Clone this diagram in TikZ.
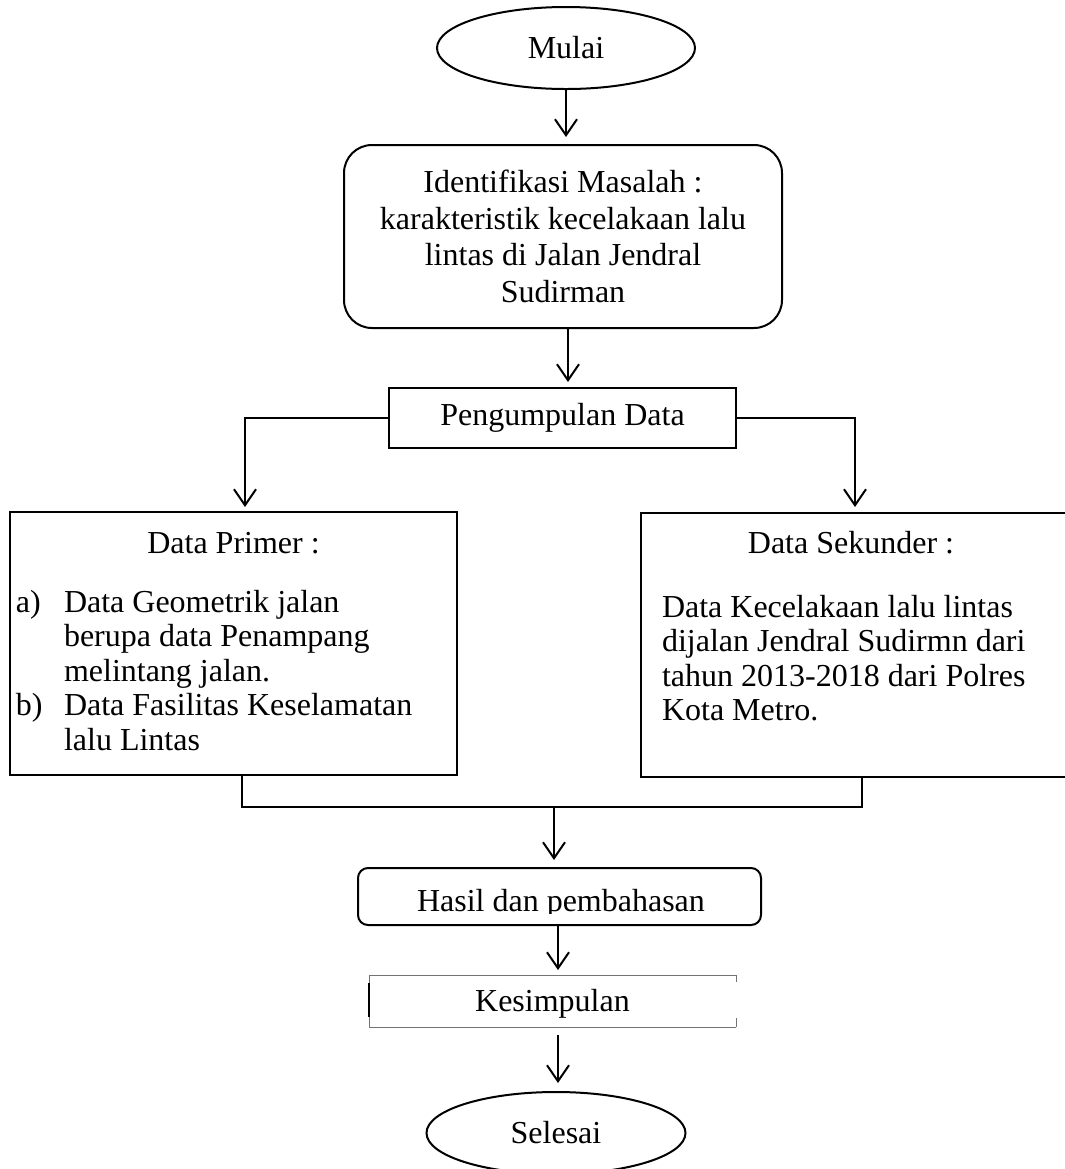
\documentclass[tikz,border=0pt]{standalone}
\usepackage{fontspec}
\setmainfont{Liberation Serif}
\usetikzlibrary{arrows.meta,shapes.geometric}
\begin{document}
\begin{tikzpicture}[x=0.5pt,y=-0.5pt,
  every node/.style={font=\fontsize{16pt}{18.35pt}\selectfont, inner sep=0pt, outer sep=0pt},
  ln/.style={line width=1pt, black},
  arr/.style={ln, -{Straight Barb[length=8pt,width=11pt]}},
  oval/.style={draw, ln, ellipse, minimum width=129pt, minimum height=41pt},
  plainbox/.style={draw, ln, rectangle},
  txt/.style={anchor=base west},
  ctxt/.style={anchor=base},
]
\path[use as bounding box, fill=white] (0,0) rectangle (1065,1169);

% start
\node[oval] (mulai) at (566,48) {Mulai};

% identification
\node[draw, ln, rounded corners=14pt, minimum width=219pt, minimum height=91.5pt, align=center] (ident) at (563,236.5)
  {Identifikasi Masalah :\\ karakteristik kecelakaan lalu\\ lintas di Jalan Jendral\\ Sudirman};

% data collection
\node[plainbox, minimum width=173.5pt, minimum height=30pt] (peng) at (562.5,418) {Pengumpulan Data};

% primary data
\node[plainbox, minimum width=223.5pt, minimum height=131.5pt] (primer) at (233.5,643.5) {};
\node[ctxt] (primerh) at (233.5,553) {Data Primer :};
\node[txt] (pa)  at (16,612) {a)};
\node[txt] (pa1) at (64,612) {Data Geometrik jalan};
\node[txt] (pa2) at (64,646.5) {berupa data Penampang};
\node[txt] (pa3) at (64,681) {melintang jalan.};
\node[txt] (pb)  at (16,715.5) {b)};
\node[txt] (pb1) at (64,715.5) {Data Fasilitas Keselamatan};
\node[txt] (pb2) at (64,750) {lalu Lintas};

% secondary data
\node[plainbox, minimum width=217pt, minimum height=132pt] (sekunder) at (858,645) {};
\node[ctxt] (sekh) at (851,553) {Data Sekunder :};
\node[txt] (s1) at (662,617) {Data Kecelakaan lalu lintas};
\node[txt] (s2) at (662,651.5) {dijalan Jendral Sudirmn dari};
\node[txt] (s3) at (662,686) {tahun 2013-2018 dari Polres};
\node[txt] (s4) at (662,720.5) {Kota Metro.};

% results
\node[draw, ln, rounded corners=5pt, minimum width=201.5pt, minimum height=28.5pt] (hasil) at (559.5,896.5) {};
\begin{scope}
  \clip (358,868) rectangle (761,913);
  \node[txt] (hasilt) at (417,911) {Hasil dan pembahasan};
\end{scope}

% conclusion
\node[minimum width=183.5pt, minimum height=26pt] (kes) at (552.5,1001) {};
\node[ctxt] (kest) at (552.5,1011) {Kesimpulan};
\draw[line width=0.5pt, black!55]
  (kes.north west) -- (kes.north east)
  (kes.south west) -- (kes.south east)
  (kes.north west) -- (kes.south west)
  (kes.north east) -- ++(0,7)
  (kes.south east) -- ++(0,-9);
\draw[ln] ([yshift=-4pt]kes.north west) -- ([yshift=5pt]kes.south west);

% end
\node[oval, minimum width=129.5pt] (selesai) at (556,1133) {Selesai};

% connectors
\draw[arr, shorten >=4pt] (mulai.south) -- (mulai.south |- ident.north);
\draw[arr, shorten >=3pt] ([xshift=2.5pt]ident.south) -- ([xshift=2.5pt]ident.south |- peng.north);

\coordinate (pl) at (245,512);
\coordinate (pr) at (855,513);
\draw[arr, shorten >=2.5pt] (peng.west) -| (pl);
\draw[arr, shorten >=3pt] (peng.east) -| (pr);

\coordinate (jl) at (242,775);
\coordinate (jr) at (862,777);
\coordinate (jm) at (554,807);
\draw[ln] (jl) |- (jm) -| (jr);
\draw[arr, shorten >=4pt] (jm) -- (jm |- hasil.north);

\draw[arr, shorten >=2.5pt] ([xshift=-0.75pt]hasil.south) -- ([xshift=-0.75pt]hasil.south |- kes.north);
\draw[arr, shorten <=4pt, shorten >=4.5pt] ([xshift=2.75pt]kes.south) -- ([xshift=2.75pt]kes.south |- selesai.north);
\end{tikzpicture}
\end{document}
